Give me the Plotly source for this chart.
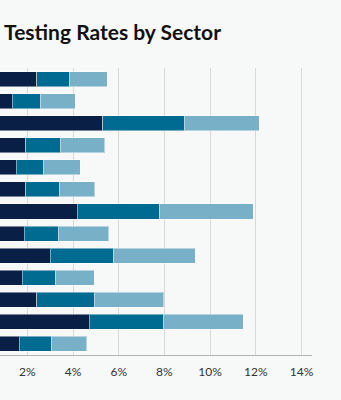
import plotly.graph_objects as go

sectors = ["Sector A", "Sector B", "Sector C", "Sector D", "Sector E", "Sector F", "Sector G",
           "Sector H", "Sector I", "Sector J", "Sector K", "Sector L", "Sector M"]
# cumulative ends (%), top to bottom
tier1 = [2.42, 1.33, 5.31, 1.93, 1.51, 1.93, 4.18, 1.86, 3.01, 1.77, 2.42, 4.70, 1.64]
tier2_end = [3.83, 2.57, 8.90, 3.46, 2.72, 3.40, 7.78, 3.36, 5.76, 3.23, 4.93, 7.94, 3.04]
tier3_end = [5.50, 4.10, 12.15, 5.40, 4.32, 4.96, 11.89, 5.56, 9.35, 4.93, 7.98, 11.45, 4.60]
tier2 = [round(b - a, 2) for a, b in zip(tier1, tier2_end)]
tier3 = [round(c - b, 2) for b, c in zip(tier2_end, tier3_end)]
series_names = ["Tier 1", "Tier 2", "Tier 3"]
colors = ["#0a1f45", "#006b91", "#78b0c8"]
tick_vals = [2, 4, 6, 8, 10, 12, 14]
tick_text = ["2%", "4%", "6%", "8%", "10%", "12%", "14%"]

fig = go.Figure()
for name, vals, col in zip(series_names, [tier1, tier2, tier3], colors):
    fig.add_trace(go.Bar(
        y=sectors, x=vals, name=name, orientation="h",
        marker=dict(color=col, line=dict(color="rgba(255,255,255,0.45)", width=1)),
    ))

fig.update_layout(
    width=341, height=400,
    barmode="stack", bargap=0.32,
    paper_bgcolor="#f7f8f8", plot_bgcolor="#f7f8f8",
    margin=dict(l=0, r=29, t=68, b=45),
    showlegend=False,
    title=dict(text="<b>Testing Rates by Sector</b>", xref="container", yref="container",
               x=0.012, xanchor="left", y=0.918, yanchor="middle",
               font=dict(family="Lato", size=21, color="#111111")),
    font=dict(family="Lato", color="#333333"),
)
fig.update_xaxes(range=[0.805, 14.46], tickvals=tick_vals, ticktext=tick_text,
                 showgrid=True, gridcolor="#d8d8d8", gridwidth=1,
                 showline=True, linecolor="#b5b5b5", linewidth=1,
                 zeroline=False, ticks="", ticklabelstandoff=6,
                 tickfont=dict(size=12, color="#333333"))
fig.update_yaxes(autorange="reversed", showticklabels=False, showgrid=False, zeroline=False)

fig.write_html("out.html")
